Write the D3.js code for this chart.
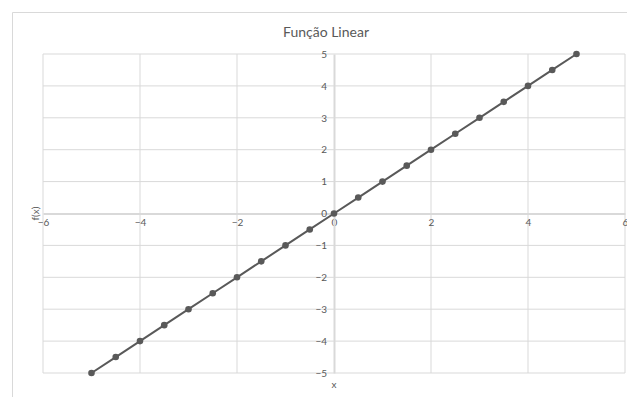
<!DOCTYPE html>
<html>
<head>
<meta charset="utf-8">
<script src="https://cdn.jsdelivr.net/npm/d3@7"></script>
<style>
  html, body { margin: 0; padding: 0; background: #fff; }
  svg { display: block; font-family: "Lato", "Open Sans", sans-serif; }
</style>
</head>
<body>
<svg id="chart" width="627" height="397"></svg>
<script>
// Points of f(x) = x sampled every half unit
const xValues = [-5, -4.5, -4, -3.5, -3, -2.5, -2, -1.5, -1, -0.5, 0, 0.5, 1, 1.5, 2, 2.5, 3, 3.5, 4, 4.5, 5];
const yValues = [-5, -4.5, -4, -3.5, -3, -2.5, -2, -1.5, -1, -0.5, 0, 0.5, 1, 1.5, 2, 2.5, 3, 3.5, 4, 4.5, 5];
const xTicks = [-6, -4, -2, 0, 2, 4, 6];
const yTicks = [-5, -4, -3, -2, -1, 0, 1, 2, 3, 4, 5];

const titleText = "Função Linear";
const xLabel = "x";
const yLabel = "f(x)";

const svg = d3.select("#chart");

// chart frame
svg.append("path")
  .attr("d", "M12.5,397 V12.5 H627")
  .attr("fill", "none")
  .attr("stroke", "#d9d9d9")
  .attr("stroke-width", 1);

const x = d3.scaleLinear().domain([-6, 6]).range([43, 625]);
const y = d3.scaleLinear().domain([-5, 5]).range([373, 54]);

const grid = svg.append("g");
// vertical gridlines
grid.selectAll("line.v").data(xTicks.filter(t => t !== 0)).join("line")
  .attr("x1", d => x(d)).attr("x2", d => x(d))
  .attr("y1", y(5)).attr("y2", y(-5))
  .attr("stroke", "#d9d9d9").attr("stroke-width", 1);
// horizontal gridlines
grid.selectAll("line.h").data(yTicks.filter(t => t !== 0)).join("line")
  .attr("x1", x(-6)).attr("x2", x(6))
  .attr("y1", d => y(d)).attr("y2", d => y(d))
  .attr("stroke", "#d9d9d9").attr("stroke-width", 1);

// axes through the origin
const xAxis = d3.axisBottom(x).tickValues(xTicks).tickSize(0).tickPadding(4);
const yAxis = d3.axisLeft(y).tickValues(yTicks).tickSize(0).tickPadding(7);

const gx = svg.append("g").attr("transform", `translate(0,${y(0)})`).call(xAxis);
const gy = svg.append("g").attr("transform", `translate(${x(0)},0)`).call(yAxis);

[gx, gy].forEach(g => {
  g.select(".domain").attr("stroke", "#d9d9d9").attr("stroke-width", 2);
  g.selectAll("text").attr("fill", "#595959").style("font-size", "10px")
    .style("font-family", "Lato, 'Open Sans', sans-serif");
});
gx.selectAll("text").attr("dy", "0.85em");

// series line and markers
const line = d3.line().x((d, i) => x(xValues[i])).y(d => y(d));
svg.append("path")
  .datum(yValues)
  .attr("d", line)
  .attr("fill", "none")
  .attr("stroke", "#595959")
  .attr("stroke-width", 2);

svg.append("g").selectAll("circle").data(yValues).join("circle")
  .attr("cx", (d, i) => x(xValues[i]))
  .attr("cy", d => y(d))
  .attr("r", 3.3)
  .attr("fill", "#595959");

// titles
svg.append("text")
  .attr("x", 326).attr("y", 37)
  .attr("text-anchor", "middle")
  .attr("fill", "#595959")
  .style("font-size", "14px")
  .text(titleText);

svg.append("text")
  .attr("x", x(0)).attr("y", 388)
  .attr("text-anchor", "middle")
  .attr("fill", "#595959")
  .style("font-size", "10px")
  .text(xLabel);

svg.append("text")
  .attr("transform", `translate(39,${y(0)}) rotate(-90)`)
  .attr("text-anchor", "middle")
  .attr("fill", "#595959")
  .style("font-size", "10px")
  .text(yLabel);
</script>
</body>
</html>
